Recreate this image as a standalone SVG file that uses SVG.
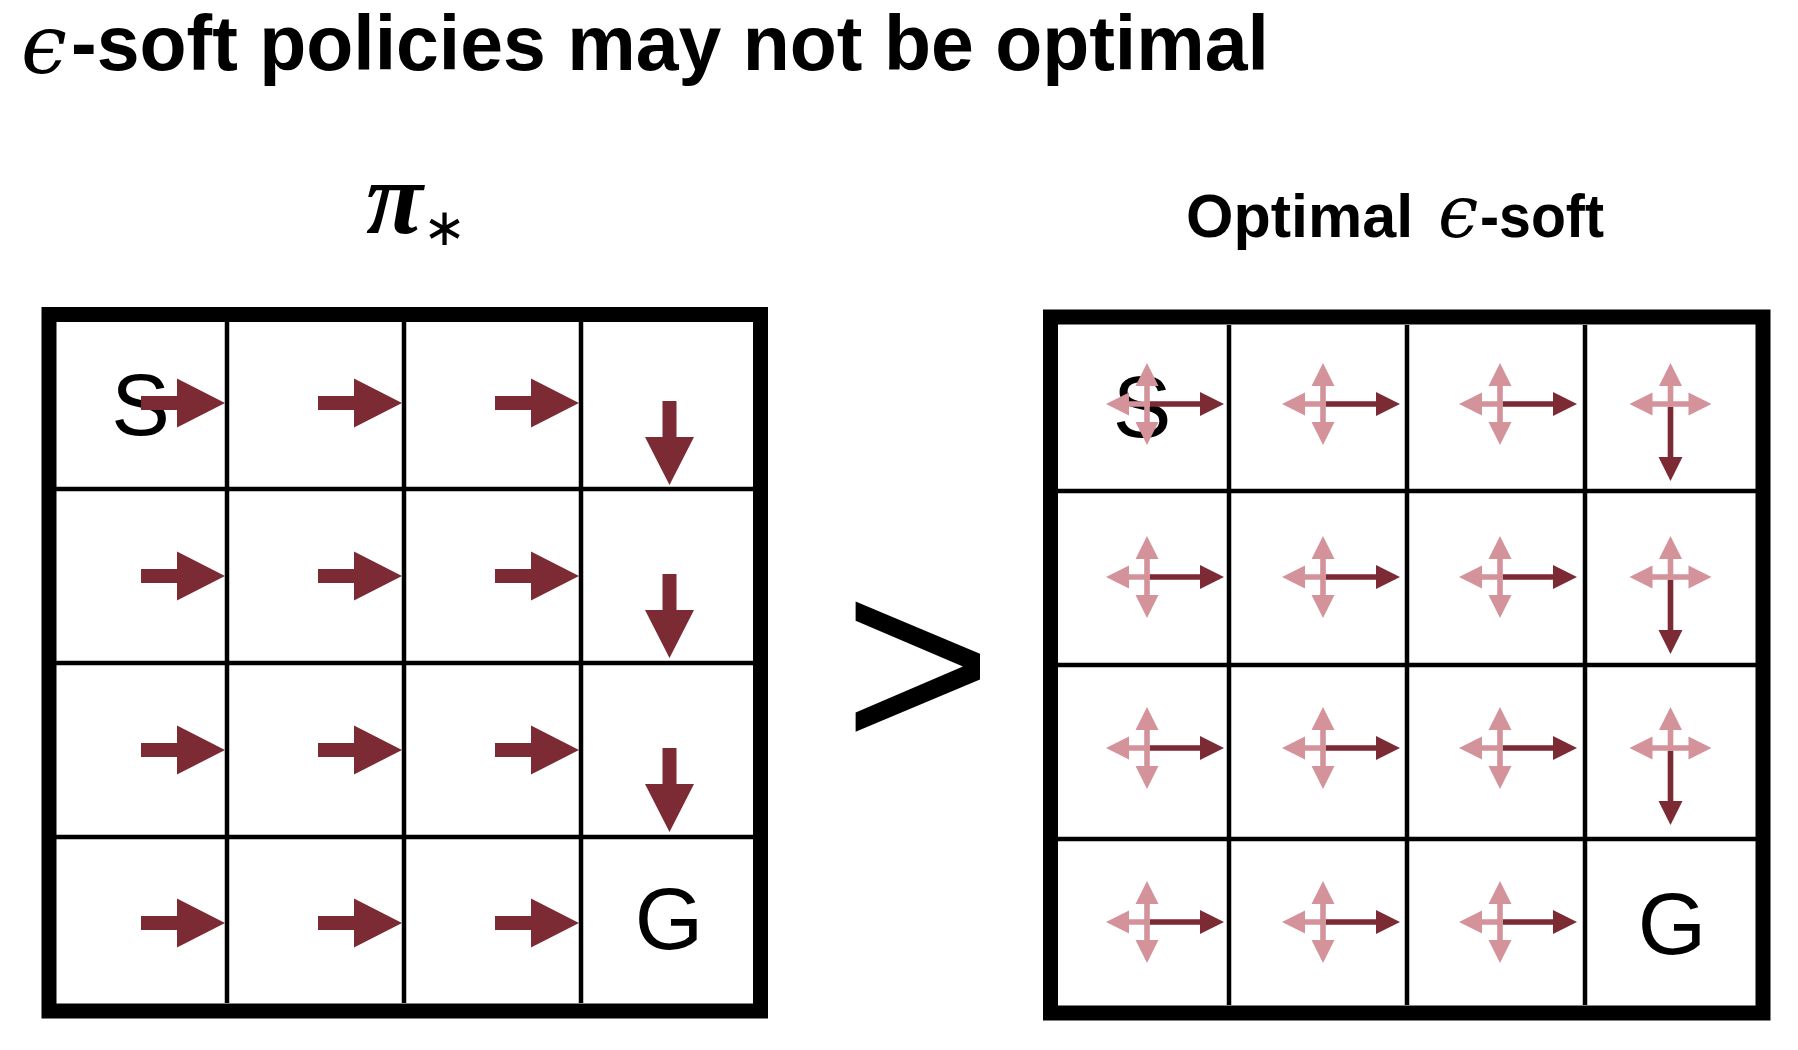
<svg xmlns="http://www.w3.org/2000/svg" xmlns:xlink="http://www.w3.org/1999/xlink" width="1798" height="1050" viewBox="0 0 1798 1050">
<style>
.sans{font-family:"Liberation Sans",Arial,sans-serif}
.bold{font-weight:bold}
.eps{font-family:"DejaVu Serif","Liberation Serif",serif;font-style:italic}
.frame{fill:none;stroke:#000;stroke-width:15}
.grid{stroke:#000;stroke-width:4.5;fill:none}
.dark{fill:#7C2A34}
.pink{fill:#D4929B}
.lbl{font-family:"Liberation Sans",Arial,sans-serif;font-size:88px;fill:#000;text-anchor:middle}
</style>
<defs>
<path id="ra" class="dark" d="M-84,-7H-48V-24.5L0,0L-48,24.5V7H-84Z"/>
<path id="pa" class="pink" d="M-2.8,-2.8H18V-11.5L41,0L18,11.5V2.8H-2.8Z"/>
<path id="da" class="dark" d="M3,-2.8H53V-12L77,0L53,12V2.8H3Z"/>
<g id="crossR">
<use xlink:href="#pa" transform="rotate(180)"/>
<use xlink:href="#pa" transform="rotate(-90)"/>
<use xlink:href="#pa" transform="rotate(90)"/>
<use xlink:href="#da"/>
</g>
<g id="crossD">
<use xlink:href="#pa" transform="rotate(180)"/>
<use xlink:href="#pa" transform="rotate(-90)"/>
<use xlink:href="#pa"/>
<use xlink:href="#da" transform="rotate(90)"/>
</g>
</defs>
<rect width="1798" height="1050" fill="#fff"/>

<g id="title">
<text y="70" font-size="77"><tspan class="eps" x="21" y="73" font-size="82">ϵ</tspan><tspan class="sans bold" x="71" y="70">-soft policies may not be optimal</tspan></text>
</g>

<g id="label-pi">
<text x="366" y="233"><tspan font-family="Liberation Serif,serif" font-weight="bold" font-style="italic" font-size="104">π</tspan><tspan y="245" font-family="DejaVu Sans,sans-serif" font-size="52">∗</tspan></text>
</g>

<g id="label-soft">
<text y="236.5" font-size="61"><tspan class="sans bold" x="1186">Optimal</tspan><tspan class="eps" x="1438" font-size="72">ϵ</tspan><tspan class="sans bold" x="1480" textLength="124" lengthAdjust="spacingAndGlyphs">-soft</tspan></text>
</g>

<g id="left-grid">
<rect class="frame" x="49" y="314.5" width="711.5" height="696.5"/>
<path class="grid" d="M227,322V1003M404,322V1003M581,322V1003M56,489H753M56,663H753M56,837H753"/>
<text class="lbl" x="140.5" y="435">S</text>
<text class="lbl" x="669" y="949">G</text>
<use xlink:href="#ra" x="225" y="403"/>
<use xlink:href="#ra" x="402" y="403"/>
<use xlink:href="#ra" x="579" y="403"/>
<use xlink:href="#ra" x="225" y="576"/>
<use xlink:href="#ra" x="402" y="576"/>
<use xlink:href="#ra" x="579" y="576"/>
<use xlink:href="#ra" x="225" y="750"/>
<use xlink:href="#ra" x="402" y="750"/>
<use xlink:href="#ra" x="579" y="750"/>
<use xlink:href="#ra" x="225" y="923"/>
<use xlink:href="#ra" x="402" y="923"/>
<use xlink:href="#ra" x="579" y="923"/>
<use xlink:href="#ra" transform="translate(669.5,485) rotate(90)"/>
<use xlink:href="#ra" transform="translate(669.5,658) rotate(90)"/>
<use xlink:href="#ra" transform="translate(669.5,832) rotate(90)"/>
</g>

<g id="comparison">
<text x="843" y="751" font-family="Liberation Sans,Arial,sans-serif" font-size="256">&gt;</text>
</g>

<g id="right-grid">
<rect class="frame" x="1050.5" y="317" width="712.5" height="696" stroke-width="15.5"/>
<path class="grid" d="M1229,325V1005M1407,325V1005M1585,325V1005M1058,491H1756M1058,665H1756M1058,839H1756"/>
<text class="lbl" x="1142" y="437">S</text>
<text class="lbl" x="1672" y="954">G</text>
<use xlink:href="#crossR" x="1147" y="404"/>
<use xlink:href="#crossR" x="1323" y="404"/>
<use xlink:href="#crossR" x="1500" y="404"/>
<use xlink:href="#crossD" x="1670.5" y="404"/>
<use xlink:href="#crossR" x="1147" y="577"/>
<use xlink:href="#crossR" x="1323" y="577"/>
<use xlink:href="#crossR" x="1500" y="577"/>
<use xlink:href="#crossD" x="1670.5" y="577"/>
<use xlink:href="#crossR" x="1147" y="748"/>
<use xlink:href="#crossR" x="1323" y="748"/>
<use xlink:href="#crossR" x="1500" y="748"/>
<use xlink:href="#crossD" x="1670.5" y="748"/>
<use xlink:href="#crossR" x="1147" y="922"/>
<use xlink:href="#crossR" x="1323" y="922"/>
<use xlink:href="#crossR" x="1500" y="922"/>
</g>
</svg>
